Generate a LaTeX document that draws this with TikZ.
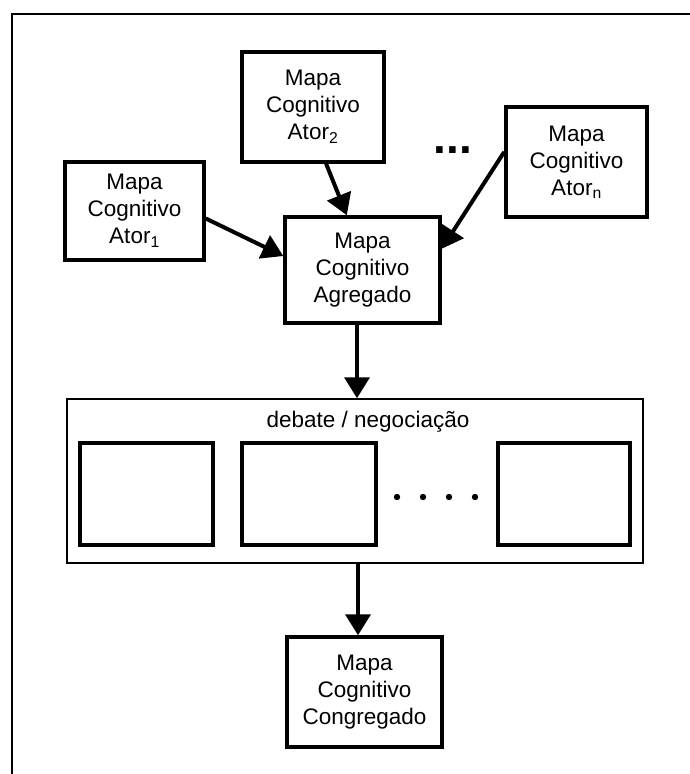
\documentclass[tikz,border=0pt]{standalone}
\usepackage{fontspec}
\setmainfont{Liberation Sans}
\usetikzlibrary{arrows.meta}
\begin{document}
\begin{tikzpicture}[x=1pt,y=-1pt,
  mapbox/.style={draw,line width=3.5pt,rectangle,inner sep=0pt,align=center,
    font=\fontsize{22.5}{27}\selectfont},
  emptybox/.style={draw,line width=3.5pt,rectangle,inner sep=0pt},
  flow/.style={line width=4pt,-{Triangle[length=21pt,width=25pt]}},
  frameline/.style={line width=2pt}]
\useasboundingbox (0,0) rectangle (690,774);
% page frame (only left and top edges)
\draw[frameline] (12,774) -- (12,14) -- (690,14);

% individual maps
\node[mapbox,minimum width=139pt,minimum height=98pt] (ator1) at (134.5,211)
  {Mapa\\Cognitivo\\Ator\textsubscript{1}};
\node[mapbox,minimum width=142pt,minimum height=110pt] (ator2) at (313,107)
  {Mapa\\Cognitivo\\Ator\textsubscript{2}};
\node[mapbox,minimum width=141pt,minimum height=110pt] (atorn) at (576.5,162)
  {Mapa\\Cognitivo\\Ator\textsubscript{n}};
\node[font=\bfseries\fontsize{46}{46}\selectfont,inner sep=0pt] (more) at (453,150) {...};

% aggregated map
\node[mapbox,minimum width=155pt,minimum height=106pt] (agreg) at (362.5,270)
  {Mapa\\Cognitivo\\Agregado};

% debate / negotiation stage
\node[draw,line width=1.5pt,rectangle,inner sep=0pt,minimum width=576pt,minimum height=164pt]
  (debate) at (355,481) {};
\node[font=\fontsize{22.5}{27}\selectfont,anchor=base] (debtitle) at (368,427)
  {debate / negociação};
\node[emptybox,minimum width=133pt,minimum height=102pt] (r1) at (146.5,494) {};
\node[emptybox,minimum width=134pt,minimum height=102pt] (r2) at (309,494) {};
\node[emptybox,minimum width=132pt,minimum height=102pt] (r3) at (564,494) {};
\foreach \px in {397,423,449,475}
  \fill (\px,497) circle (3.2pt);

% final map
\node[mapbox,minimum width=155pt,minimum height=110pt] (congreg) at (364.5,692)
  {Mapa\\Cognitivo\\Congregado};

% connectors
\draw[flow] (ator1.-6) -- (agreg.170.5);
\draw[flow] (ator2.-77.7) -- (agreg.106.3);
\draw[flow] (atorn.172.7) -- (agreg.15.8);
\draw[flow] ([xshift=-5.5pt]agreg.south) -- ([xshift=-5.5pt]agreg.south |- debate.north);
\draw[flow] ([xshift=3pt]debate.south) -- ([xshift=3pt]debate.south |- congreg.north);
\end{tikzpicture}
\end{document}
